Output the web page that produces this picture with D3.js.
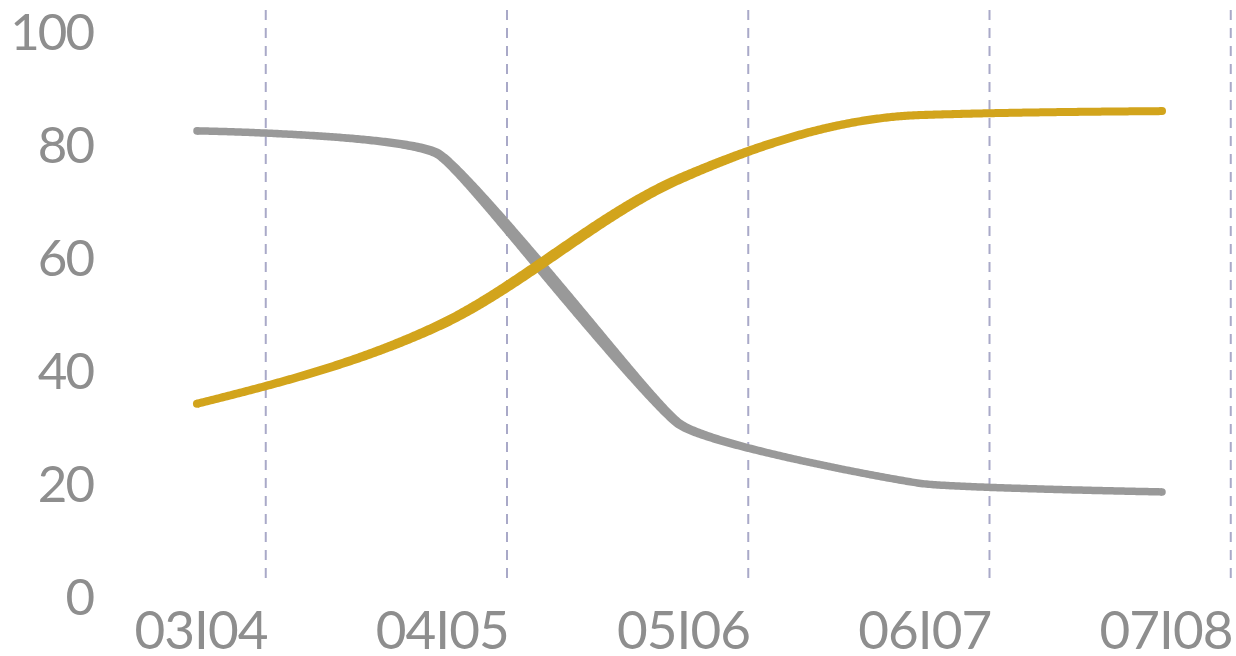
<!DOCTYPE html>
<html>
<head>
<meta charset="utf-8">
<script src="https://cdn.jsdelivr.net/npm/d3@7"></script>
<style>
  html, body { margin: 0; padding: 0; background: #fff; }
  svg { display: block; }
  .tick-label { font-family: Lato, "Open Sans", sans-serif; fill: #8e8e8e; }
</style>
</head>
<body>
<div id="chart"></div>
<script>
  // 数据
  const seasons = ["03I04", "04I05", "05I06", "06I07", "07I08"];
  const grayValues = [82.5, 78.4, 30.6, 20.1, 18.6];
  const goldValues = [34.2, 48.0, 74, 85.3, 86];
  const yTicks = [0, 20, 40, 60, 80, 100];

  const width = 1236;
  const height = 656;

  const svg = d3.select("#chart")
    .append("svg")
    .attr("width", width)
    .attr("height", height);

  const x = d3.scalePoint().domain(seasons).range([197, 1162]);
  const y = d3.scaleLinear().domain([0, 100]).range([597, 32]);

  // 竖向虚线网格（在每个标签右侧）
  const gridOffset = x.step() * 0.285;
  svg.append("g")
    .selectAll("line")
    .data(seasons)
    .join("line")
    .attr("x1", (d) => x(d) + gridOffset)
    .attr("x2", (d) => x(d) + gridOffset)
    .attr("y1", 10)
    .attr("y2", 585)
    .attr("stroke", "#a9a9c8")
    .attr("stroke-width", 2)
    .attr("stroke-dasharray", "10,8");

  // y 轴刻度文字
  svg.append("g")
    .selectAll("text")
    .data(yTicks)
    .join("text")
    .attr("class", "tick-label")
    .attr("x", 93)
    .attr("y", (d) => y(d))
    .attr("dy", "0.35em")
    .attr("text-anchor", "end")
    .style("font-size", "51px")
    .style("letter-spacing", "-2px")
    .text((d) => d);

  // x 轴刻度文字
  svg.append("g")
    .selectAll("text")
    .data(seasons)
    .join("text")
    .attr("class", "tick-label")
    .attr("x", (d) => x(d) + 4)
    .attr("y", 649)
    .attr("text-anchor", "middle")
    .style("font-size", "53px")
    .style("letter-spacing", "-1px")
    .text((d) => d);

  function makeLine(curve) {
    return d3.line()
      .x((d, i) => x(seasons[i]))
      .y((d) => y(d))
      .curve(curve);
  }

  // 变宽线条：沿路径采样，按 x 位置给出宽度，拼成一个填充带
  function drawRibbon(values, curve, color, widthAt) {
    const guide = svg.append("path")
      .attr("fill", "none")
      .attr("d", makeLine(curve)(values));
    const node = guide.node();
    const total = node.getTotalLength();
    const n = 600;
    const pts = d3.range(n + 1).map((i) => node.getPointAtLength((total * i) / n));
    guide.remove();

    const left = [];
    const right = [];
    pts.forEach((p, i) => {
      const a = pts[Math.max(0, i - 1)];
      const b = pts[Math.min(n, i + 1)];
      const dx = b.x - a.x;
      const dy = b.y - a.y;
      const len = Math.hypot(dx, dy) || 1;
      const nx = -dy / len;
      const ny = dx / len;
      const h = widthAt(p.x) / 2;
      left.push([p.x + nx * h, p.y + ny * h]);
      right.push([p.x - nx * h, p.y - ny * h]);
    });

    const g = svg.append("g").attr("fill", color);
    g.append("path")
      .attr("d", d3.line().curve(d3.curveLinearClosed)(left.concat(right.reverse())));
    [pts[0], pts[n]].forEach((p) => {
      g.append("circle")
        .attr("cx", p.x)
        .attr("cy", p.y)
        .attr("r", widthAt(p.x) / 2);
    });
  }

  const mid = (x(seasons[1]) + x(seasons[2])) / 2;

  drawRibbon(grayValues, d3.curveCardinal.tension(0.6), "#999999", (px) =>
    7.5 + 5.5 * Math.exp(-Math.pow((px - mid) / 120, 2))
  );

  drawRibbon(goldValues, d3.curveMonotoneX, "#d2a41c", (px) =>
    8 + 3 * Math.exp(-Math.pow((px - mid) / 190, 2))
  );
</script>
</body>
</html>
